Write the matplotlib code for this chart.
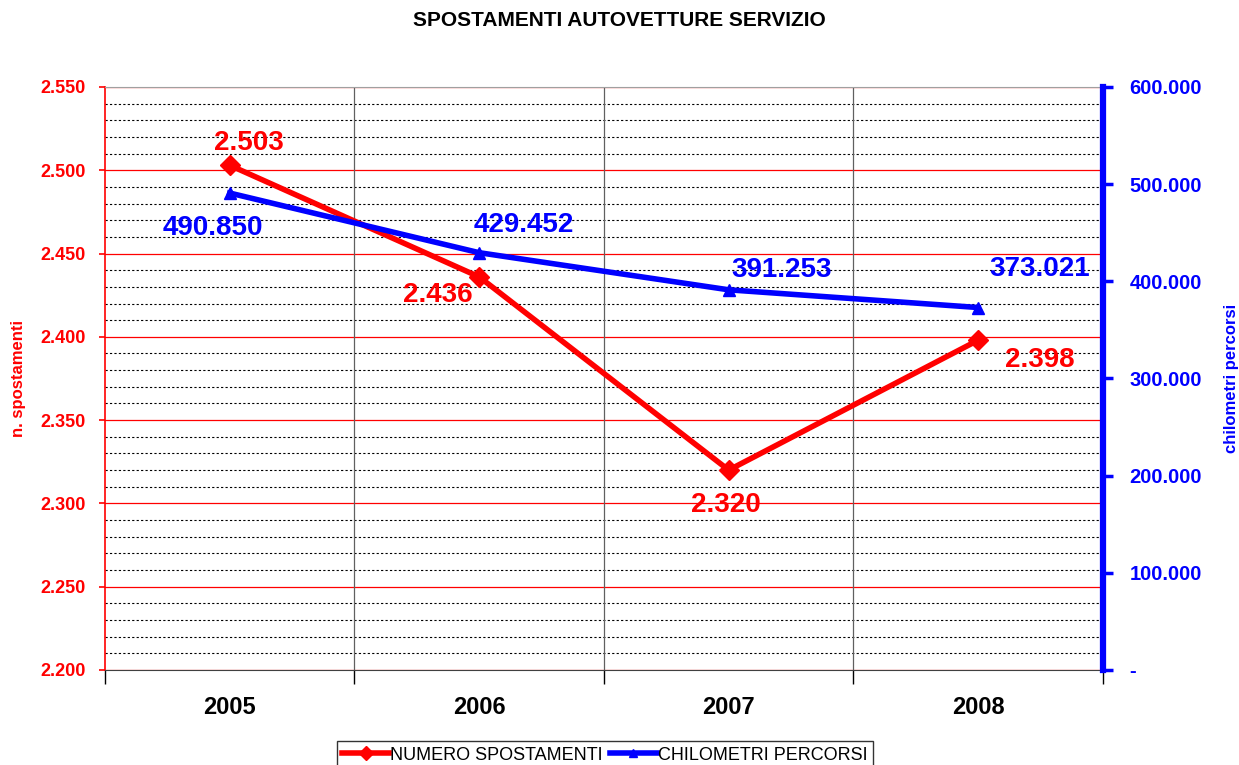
import matplotlib
matplotlib.use("Agg")
import matplotlib.pyplot as plt
from matplotlib.ticker import MultipleLocator, FuncFormatter, FixedLocator

plt.rcParams["font.family"] = ["Liberation Sans", "DejaVu Sans"]

years = ["2005", "2006", "2007", "2008"]
spostamenti = [2.503, 2.436, 2.320, 2.398]
chilometri = [490850, 429452, 391253, 373021]

RED = "#ff0000"
BLUE = "#0000ff"


def it_fmt(v):
    # italian style thousands separator, integers only
    return f"{v:,.0f}".replace(",", ".")


fig = plt.figure(figsize=(12.39, 7.65), dpi=100)
ax = fig.add_axes([0.0847, 0.1242, 0.8055, 0.7621])
ax2 = ax.twinx()

x = list(range(len(years)))

# grid
ax.set_ylim(2.2, 2.55)
ax.set_xlim(-0.5, len(years) - 0.5)
ax.yaxis.set_major_locator(MultipleLocator(0.05))
ax.yaxis.set_minor_locator(MultipleLocator(0.01))
ax.grid(which="minor", axis="y", color="black", linestyle=(0, (2, 2)), linewidth=0.8)
ax.grid(which="major", axis="y", color=RED, linestyle="-", linewidth=0.9)
for b in [0.5, 1.5, 2.5]:
    ax.axvline(b, color="#606060", linewidth=0.9, zorder=1)
ax.set_axisbelow(True)

ax.yaxis.set_major_formatter(FuncFormatter(lambda v, p: f"{v:.3f}"))
ax.tick_params(axis="y", which="major", colors=RED, labelsize=13, length=4,
               width=1.2, direction="out", pad=10)
ax.tick_params(axis="y", which="minor", length=0)
for lab in ax.get_yticklabels():
    lab.set_fontweight("bold")

ax.xaxis.set_major_locator(FixedLocator(x))
ax.xaxis.set_minor_locator(FixedLocator([-0.5, 0.5, 1.5, 2.5, 3.5]))
ax.set_xticklabels(years, fontsize=17, fontweight="bold")
ax.tick_params(axis="x", which="major", length=0, pad=19)
ax.tick_params(axis="x", which="minor", length=10, width=1, color="black")

ax.spines["left"].set_color(RED)
ax.spines["left"].set_linewidth(1.2)
ax.spines["top"].set_color("#a0a0a0")
ax.spines["bottom"].set_color("#404040")
ax.spines["right"].set_visible(False)

ax.set_ylabel("n. spostamenti", color=RED, fontsize=12, fontweight="bold", labelpad=10)

# secondary axis
ax2.set_ylim(0, 600000)
ax2.yaxis.set_major_locator(MultipleLocator(100000))
ax2.yaxis.set_major_formatter(FuncFormatter(lambda v, p: "-" if v == 0 else it_fmt(v)))
ax2.tick_params(axis="y", colors=BLUE, labelsize=14.5, length=7, width=2.5, pad=12)
for lab in ax2.get_yticklabels():
    lab.set_fontweight("bold")
ax2.spines["right"].set_color(BLUE)
ax2.spines["right"].set_linewidth(4.5)
for s in ["left", "top", "bottom"]:
    ax2.spines[s].set_visible(False)
ax2.set_ylabel("chilometri percorsi", color=BLUE, fontsize=12, fontweight="bold", labelpad=16)

# series
l1, = ax.plot(x, spostamenti, color=RED, linewidth=4, marker="D", markersize=10,
              label="NUMERO SPOSTAMENTI", zorder=4)
l2, = ax2.plot(x, chilometri, color=BLUE, linewidth=4, marker="^", markersize=8,
               label="CHILOMETRI PERCORSI", zorder=4)

red_off = [(14, 16), (-30, -13), (-2, -25), (44, -14)]
for xi, v, off in zip(x, spostamenti, red_off):
    ax.annotate(it_fmt(v * 1000), (xi, v), xytext=off, textcoords="offset points",
                ha="center", va="center", color=RED, fontsize=20, fontweight="bold")

blue_off = [(-12, -25), (32, 20), (38, 14), (44, 28)]
for xi, v, off in zip(x, chilometri, blue_off):
    ax2.annotate(it_fmt(v), (xi, v), xytext=off, textcoords="offset points",
                 ha="center", va="center", color=BLUE, fontsize=20, fontweight="bold")

fig.suptitle("SPOSTAMENTI AUTOVETTURE SERVIZIO", fontsize=15, fontweight="bold", y=0.985)

leg = fig.legend([l1, l2], ["NUMERO SPOSTAMENTI", "CHILOMETRI PERCORSI"], loc="upper center",
                 bbox_to_anchor=(0.488, 0.043), ncol=2, fontsize=13, frameon=True,
                 fancybox=False, edgecolor="black", handlelength=2.6, handletextpad=0.05,
                 columnspacing=0.4, borderpad=0.3, markerscale=0.7)
leg.get_frame().set_linewidth(1)

fig.savefig("out.png", dpi=100)
